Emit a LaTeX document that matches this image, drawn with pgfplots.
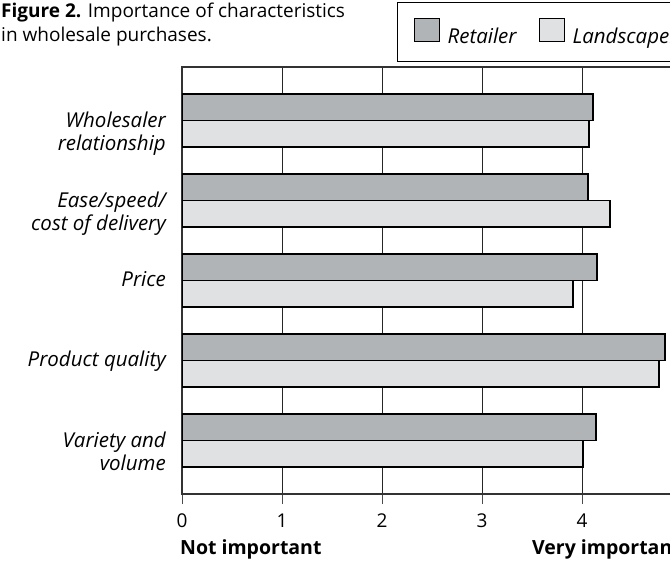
\documentclass[border=0pt]{standalone}
\usepackage{fontspec}
\setmainfont{Open Sans}
\usepackage{pgfplots}
\pgfplotsset{compat=1.18}
\definecolor{retailer}{HTML}{B1B4B6}
\definecolor{landscaper}{HTML}{E0E1E2}
\begin{document}
\fontsize{19bp}{23.5bp}\selectfont
\begin{tikzpicture}
% the reference is cut off at its right edge: keep the same crop
\path[use as bounding box] (0,0) rectangle (670bp,565bp);
\clip (0,0) rectangle (670bp,565bp);
\node[anchor=base west, align=left, inner sep=0pt,
      font=\fontsize{19bp}{24bp}\selectfont] at (1bp,523bp)
  {\textbf{Figure 2.} Importance of characteristics\\in wholesale purchases.};
\begin{axis}[
    at={(182bp,71bp)}, anchor=south west,
    scale only axis, width=500bp, height=427bp,
    xmin=0, xmax=5, ymin=-0.669, ymax=4.669,
    xtick={0,...,5},
    % two-line labels are set one line lower so that their first line sits at the bars
    ytick={-0.294,1,2,2.706,3.706},
    yticklabels={{Variety and\\volume}, Product quality, Price,
                 {Ease/speed/\\cost of delivery}, {Wholesaler\\relationship}},
    xtick pos=left, tick align=outside,
    x tick style={black!70, line width=1bp},
    major tick length=10bp,
    ytick style={draw=none},
    xmajorgrids, grid style={black!85, line width=0.9bp},
    axis line style={black!80, line width=1.3bp},
    /pgf/number format/assume math mode=true,
    xticklabel style={anchor=base, yshift=-23bp, inner sep=0pt,
                      font=\fontsize{19bp}{23.5bp}\selectfont},
    yticklabel style={anchor=base east, yshift=-6.5bp, xshift=-6bp,
                      inner sep=0pt, align=right,
                      font=\fontsize{20.5bp}{23.5bp}\selectfont\itshape},
    legend columns=2,
    legend image code/.code={\draw[#1, line width=1bp] (0bp,-3.5bp) rectangle (25bp,19.5bp);},
    legend style={at={(0.43,1.1522)}, anchor=north west,
                  draw=black, line width=1.2bp,
                  inner xsep=16bp, inner ysep=15bp,
                  font=\fontsize{20.5bp}{23.5bp}\selectfont\itshape,
                  nodes={inner sep=0pt},
                  /tikz/every odd column/.append style={column sep=8bp},
                  /tikz/every even column/.append style={column sep=22bp}},
]
% Retailer
\addplot[xbar, bar width=0.331, bar shift=0.1656,
         fill=retailer, draw=black, line width=1.2bp]
  coordinates {(4.14,0) (4.83,1) (4.15,2) (4.06,3) (4.11,4)};
% Landscaper
\addplot[xbar, bar width=0.331, bar shift=-0.1656,
         fill=landscaper, draw=black, line width=1.2bp]
  coordinates {(4.01,0) (4.77,1) (3.91,2) (4.28,3) (4.07,4)};
\legend{Retailer, Landscaper}
\end{axis}
\node[anchor=base west, inner sep=0pt,
      font=\fontsize{19.5bp}{23.5bp}\selectfont\bfseries] at (180bp,11bp) {Not important};
\node[anchor=base east, inner sep=0pt,
      font=\fontsize{19.5bp}{23.5bp}\selectfont\bfseries] at (681bp,11bp) {Very important};
\end{tikzpicture}
\end{document}
